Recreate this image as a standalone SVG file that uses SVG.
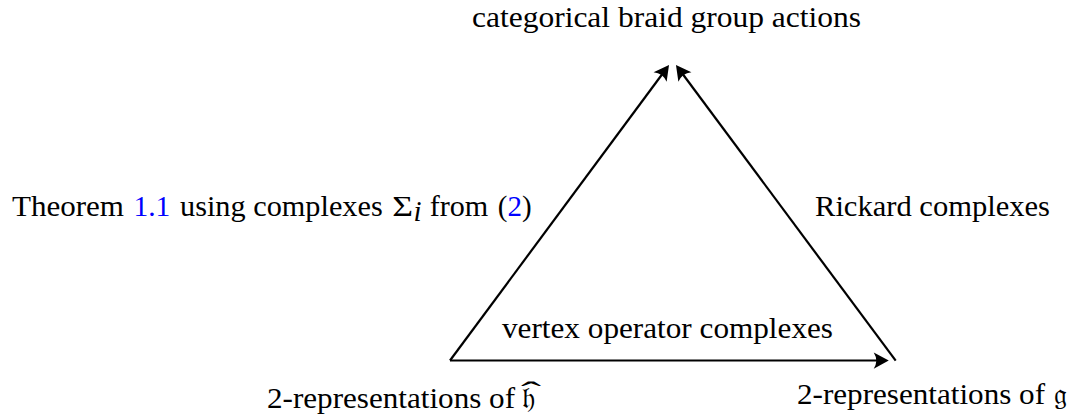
<svg xmlns="http://www.w3.org/2000/svg" width="1074" height="417" viewBox="0 0 1074 417">
<style>
text{font-family:"Liberation Serif","DejaVu Serif",serif;font-size:29px;fill:#000}
.lnk{fill:#0000ff}
.edge{stroke:#000;stroke-width:2.2;fill:none;marker-end:url(#ah)}
</style>
<defs>
<marker id="ah" markerUnits="userSpaceOnUse" markerWidth="20" markerHeight="20" viewBox="-14 -8 16 16" refX="-5" refY="0" orient="auto">
<path d="M0,0 L-12,-6.5 Q-8,0 -12,6.5 Z" fill="#000"/>
</marker>
</defs>
<g id="top"><text x="472" y="27" textLength="389" lengthAdjust="spacingAndGlyphs">categorical braid group actions</text></g>
<g id="left-label">
<text x="12" y="216" textLength="112" lengthAdjust="spacingAndGlyphs">Theorem</text>
<text class="lnk" x="133.5" y="216" textLength="36.8" lengthAdjust="spacingAndGlyphs">1.1</text>
<text x="180" y="216" textLength="202.7" lengthAdjust="spacingAndGlyphs">using complexes</text>
<text x="392.3" y="216" textLength="20.8" lengthAdjust="spacingAndGlyphs">Σ</text>
<text x="413.5" y="220.5" font-size="20" font-style="italic">i</text>
<text x="429.7" y="216" textLength="58.5" lengthAdjust="spacingAndGlyphs">from</text>
<text x="497.8" y="216">(<tspan class="lnk">2</tspan>)</text>
</g>
<g id="right-label"><text x="815" y="216" textLength="235" lengthAdjust="spacingAndGlyphs">Rickard complexes</text></g>
<g id="bottom-label"><text x="502" y="337.5" textLength="331" lengthAdjust="spacingAndGlyphs">vertex operator complexes</text></g>
<g id="hhat">
<text x="267" y="407.5" textLength="248" lengthAdjust="spacingAndGlyphs">2-representations of</text>
<text x="522" y="407.5">𝔥</text>
<text x="521" y="402" textLength="20" lengthAdjust="spacingAndGlyphs">ˆ</text>
</g>
<g id="g">
<text x="797" y="403.5" textLength="248" lengthAdjust="spacingAndGlyphs">2-representations of</text>
<text x="1054" y="403.5">𝔤</text>
</g>
<g id="connectors">
<line class="edge" x1="450" y1="360.5" x2="665.3" y2="70"/>
<line class="edge" x1="895.7" y1="360.7" x2="679.7" y2="70"/>
<line class="edge" x1="450" y1="360.5" x2="882.5" y2="360.5"/>
</g>
</svg>
